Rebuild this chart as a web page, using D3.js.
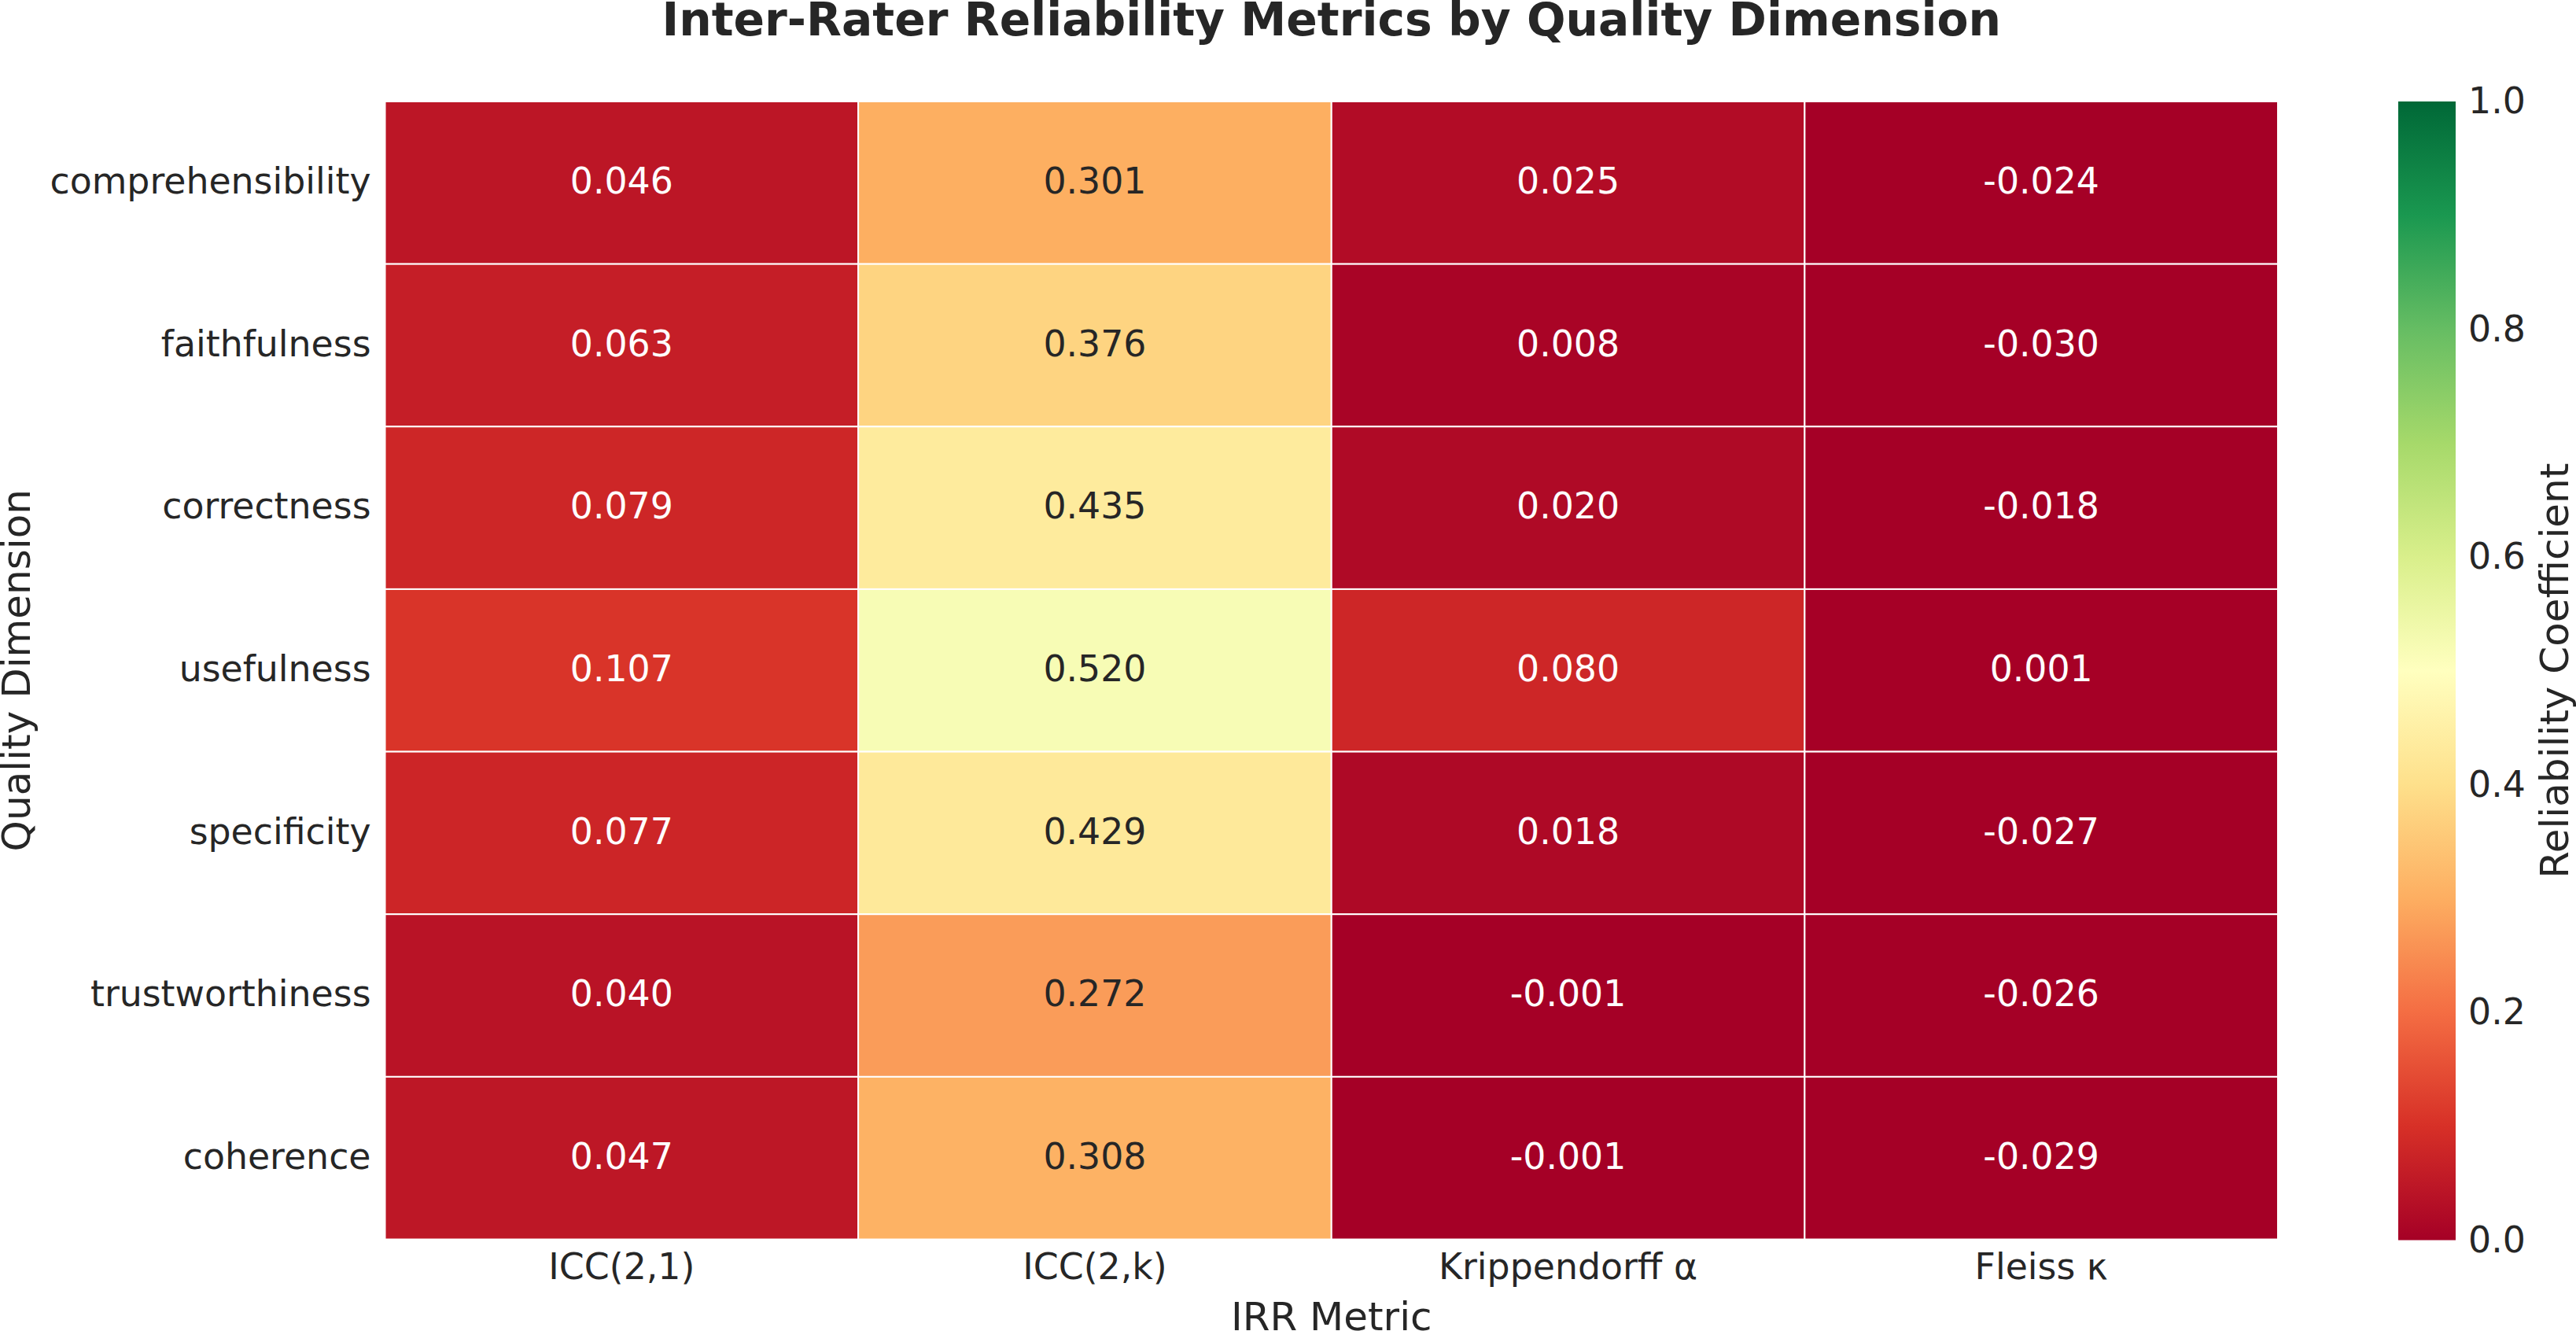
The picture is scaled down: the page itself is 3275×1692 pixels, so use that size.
<!DOCTYPE html>
<html lang="en">
<head>
<meta charset="UTF-8">
<title>Inter-Rater Reliability Metrics</title>
<script src="https://cdn.jsdelivr.net/npm/d3@7"></script>
<style>
  body { margin: 0; background: #ffffff; }
  svg text { font-family: "DejaVu Sans", sans-serif; fill: #262626; }
</style>
</head>
<body>
<div id="chart"></div>
<script>
// data
var dimensions = ["comprehensibility", "faithfulness", "correctness", "usefulness", "specificity", "trustworthiness", "coherence"];
var metrics = ["ICC(2,1)", "ICC(2,k)", "Krippendorff α", "Fleiss κ"];
var icc21  = [0.046, 0.063, 0.079, 0.107, 0.077, 0.040, 0.047];
var icc2k  = [0.301, 0.376, 0.435, 0.520, 0.429, 0.272, 0.308];
var kripp  = [0.025, 0.008, 0.020, 0.080, 0.018, -0.001, -0.001];
var fleiss = [-0.024, -0.030, -0.018, 0.001, -0.027, -0.026, -0.029];
var colorbarTicks = [0, 0.2, 0.4, 0.6, 0.8, 1.0];

var series = [icc21, icc2k, kripp, fleiss];

var W = 3275, H = 1692;
var plotLeft = 489.5, plotRight = 2896, plotTop = 129, plotBottom = 1575.5;
var tickFont = "45.8px";

var svg = d3.select("#chart").append("svg")
    .attr("width", W)
    .attr("height", H);

var cells = [];
dimensions.forEach(function(d, i) {
    metrics.forEach(function(m, j) {
        cells.push({ row: d, col: m, value: series[j][i] });
    });
});

var x = d3.scaleBand().domain(metrics).range([plotLeft, plotRight]);
var y = d3.scaleBand().domain(dimensions).range([plotTop, plotBottom]);

// matplotlib RdYlGn is a linear blend of the 11 brewer colours
var brewer = d3.schemeRdYlGn[11];
var color = d3.scaleLinear()
    .domain(d3.range(11).map(function(i) { return i / 10; }))
    .range(brewer)
    .interpolate(d3.interpolateRgb)
    .clamp(true);

function luminance(c) {
    var rgb = d3.rgb(c);
    var ch = [rgb.r, rgb.g, rgb.b].map(function(v) {
        v = v / 255;
        return v <= 0.03928 ? v / 12.92 : Math.pow((v + 0.055) / 1.055, 2.4);
    });
    return 0.2126 * ch[0] + 0.7152 * ch[1] + 0.0722 * ch[2];
}

svg.selectAll(".cell")
    .data(cells)
    .enter()
    .append("rect")
    .attr("class", "cell")
    .attr("x", function(d) { return x(d.col); })
    .attr("y", function(d) { return y(d.row); })
    .attr("width", x.bandwidth())
    .attr("height", y.bandwidth())
    .attr("fill", function(d) { return color(d.value); })
    .attr("stroke", "#ffffff")
    .attr("stroke-width", 2);

svg.selectAll(".annot")
    .data(cells)
    .enter()
    .append("text")
    .attr("class", "annot")
    .attr("x", function(d) { return x(d.col) + x.bandwidth() / 2; })
    .attr("y", function(d) { return y(d.row) + y.bandwidth() / 2; })
    .attr("dy", "0.3em")
    .attr("text-anchor", "middle")
    .attr("font-size", tickFont)
    .style("fill", function(d) { return luminance(color(d.value)) > 0.408 ? "#262626" : "#ffffff"; })
    .text(function(d) { return d.value.toFixed(3); });

// axes
var xAxis = svg.append("g")
    .attr("transform", "translate(0," + plotBottom + ")")
    .call(d3.axisBottom(x).tickSize(0).tickPadding(18));
xAxis.select(".domain").remove();
xAxis.selectAll("text")
    .attr("font-size", tickFont)
    .attr("font-family", "DejaVu Sans")
    .style("fill", "#262626");

var yAxis = svg.append("g")
    .attr("transform", "translate(" + plotLeft + ",0)")
    .call(d3.axisLeft(y).tickSize(0).tickPadding(18));
yAxis.select(".domain").remove();
yAxis.selectAll("text")
    .attr("font-size", tickFont)
    .attr("font-family", "DejaVu Sans")
    .attr("dy", "0.3em")
    .style("fill", "#262626");

// title and axis labels
svg.append("text")
    .attr("x", (plotLeft + plotRight) / 2)
    .attr("y", 45)
    .attr("text-anchor", "middle")
    .attr("font-size", "58.3px")
    .attr("font-weight", "bold")
    .text("Inter-Rater Reliability Metrics by Quality Dimension");

svg.append("text")
    .attr("x", (plotLeft + plotRight) / 2)
    .attr("y", 1691)
    .attr("text-anchor", "middle")
    .attr("font-size", "50px")
    .text("IRR Metric");

svg.append("text")
    .attr("transform", "translate(38," + (plotTop + plotBottom) / 2 + ") rotate(-90)")
    .attr("text-anchor", "middle")
    .attr("font-size", "50px")
    .text("Quality Dimension");

// colorbar
var cbLeft = 3049, cbWidth = 73, cbTop = 129, cbBottom = 1576.5;
var cbScale = d3.scaleLinear().domain([0, 1]).range([cbBottom, cbTop]);

var grad = svg.append("defs").append("linearGradient")
    .attr("id", "cbgrad")
    .attr("x1", "0").attr("y1", "1")
    .attr("x2", "0").attr("y2", "0");
grad.selectAll("stop")
    .data(brewer)
    .enter()
    .append("stop")
    .attr("offset", function(d, i) { return (i * 10) + "%"; })
    .attr("stop-color", function(d) { return d; });

svg.append("rect")
    .attr("x", cbLeft)
    .attr("y", cbTop)
    .attr("width", cbWidth)
    .attr("height", cbBottom - cbTop)
    .attr("fill", "url(#cbgrad)");

var cbAxis = svg.append("g")
    .attr("transform", "translate(" + (cbLeft + cbWidth) + ",0)")
    .call(d3.axisRight(cbScale).tickValues(colorbarTicks).tickFormat(d3.format(".1f")).tickSize(0).tickPadding(16));
cbAxis.select(".domain").remove();
cbAxis.selectAll("text")
    .attr("font-size", tickFont)
    .attr("font-family", "DejaVu Sans")
    .style("fill", "#262626");

svg.append("text")
    .attr("transform", "translate(3265," + (cbTop + cbBottom) / 2 + ") rotate(-90)")
    .attr("text-anchor", "middle")
    .attr("font-size", "50px")
    .text("Reliability Coefficient");
</script>
</body>
</html>
